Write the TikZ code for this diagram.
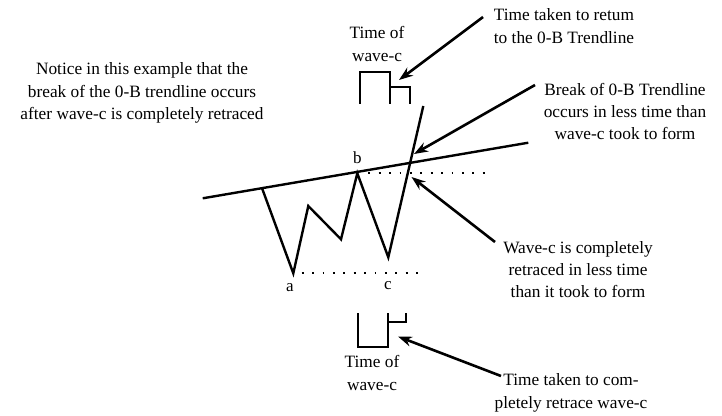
\documentclass[tikz,border=0pt]{standalone}
\usepackage{fontspec}
\setmainfont{Liberation Serif}
\usetikzlibrary{arrows.meta}
\begin{document}
\begin{tikzpicture}[x=1pt,y=-1pt,
  wave/.style={line width=2.4pt, line join=miter},
  dotline/.style={line width=1.8pt, dash pattern=on 1.8pt off 8.6pt},
  pointer/.style={line width=2.6pt, -{Stealth[length=14pt,width=10pt]}},
  txt/.style={align=center, font=\fontsize{17.3}{22.3}\selectfont, inner sep=0pt},
  lbl/.style={font=\fontsize{17}{19}\selectfont, inner sep=0pt}]
\useasboundingbox (0,0) rectangle (722,415);
% trendline
\coordinate (tl1) at (202.7,198.3);
\coordinate (tl2) at (528.3,142.7);
\draw[wave] (tl1) -- (tl2);
% wave
\coordinate (w0) at (261.7,187.3);
\coordinate (pa) at (293.3,273.3);
\coordinate (w1) at (308.3,206);
\coordinate (w2) at (341,239.3);
\coordinate (pb) at (357.3,173.3);
\coordinate (pc) at (388.3,257.3);
\coordinate (wend) at (423.3,106);
\draw[wave] (w0) -- (pa) -- (w1) -- (w2) -- (pb) -- (pc) -- (wend);
% dotted levels
\coordinate (db1) at (368.3,172.8);
\coordinate (db2) at (485,172.8);
\coordinate (da1) at (301.7,273.3);
\coordinate (da2) at (420,273.3);
\draw[dotline] (db1) -- (db2);
\draw[dotline] (da1) -- (da2);
% labels
\node[lbl] (lb) at (357.3,158) {b};
\node[lbl] (la) at (290,288) {a};
\node[lbl] (lc) at (388,285.5) {c};
% top bracket
\coordinate (t1) at (360,103.5);
\coordinate (t2) at (360,71.7);
\coordinate (t3) at (390,71.7);
\coordinate (t4) at (390,103.5);
\coordinate (t5) at (390,87.3);
\coordinate (t6) at (410,87.3);
\coordinate (t7) at (410,103.5);
\draw[wave, line width=2.2pt] (t1) -- (t2) -- (t3) -- (t4);
\draw[wave, line width=2.2pt] (t5) -- (t6) -- (t7);
\node[txt] (ttop) at (377,44) {Time of\\wave-c};
% bottom bracket
\coordinate (b1) at (358.3,313);
\coordinate (b2) at (358.3,346.7);
\coordinate (b3) at (388.3,346.7);
\coordinate (b4) at (388.3,313);
\coordinate (b5) at (388.3,321.7);
\coordinate (b6) at (406,321.7);
\coordinate (b7) at (406,313);
\draw[wave, line width=2.2pt] (b1) -- (b2) -- (b3) -- (b4);
\draw[wave, line width=2.2pt] (b5) -- (b6) -- (b7);
\node[txt] (tbot) at (372,373) {Time of\\wave-c};
% left note
\node[txt] (note) at (142,93) {Notice in this example that the\\break of the 0-B trendline occurs\\after wave-c is completely retraced};
% annotations
\node[txt] (ret) at (564,26) {Time taken to retum\\to the 0-B Trendline};
\node[txt] (brk) at (625,111.5) {Break of 0-B Trendline\\occurs in less time than\\wave-c took to form};
\node[txt] (wvc) at (578,269.5) {Wave-c is completely\\retraced in less time\\than it took to form};
\node[txt] (cmp) at (571,393) {Time taken to com-\\pletely retrace wave-c};
% arrows
\coordinate (a1s) at (483,17);
\coordinate (a1e) at (399,80);
\draw[pointer] (a1s) -- (a1e);
\coordinate (a2s) at (535,85);
\coordinate (a2e) at (414,154);
\draw[pointer] (a2s) -- (a2e);
\coordinate (a3s) at (495,242);
\coordinate (a3e) at (411.5,177);
\draw[pointer] (a3s) -- (a3e);
\coordinate (a4s) at (501,376);
\coordinate (a4e) at (398,336.5);
\draw[pointer] (a4s) -- (a4e);
\end{tikzpicture}
\end{document}
